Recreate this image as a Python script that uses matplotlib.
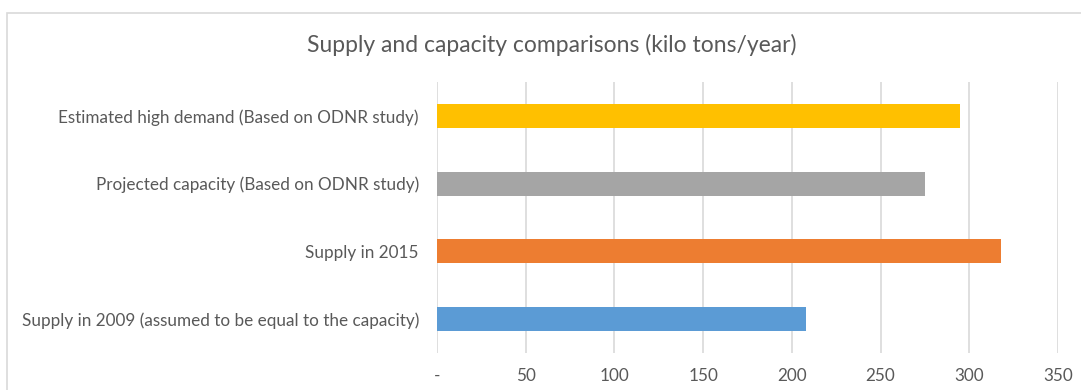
import matplotlib.pyplot as plt
from matplotlib.patches import Rectangle

categories = [
    'Supply in 2009 (assumed to be equal to the capacity)',
    'Supply in 2015',
    'Projected capacity (Based on ODNR study)',
    'Estimated high demand (Based on ODNR study)',
]
values = [208, 318, 275, 295]
colors = ['#5B9BD5', '#ED7D31', '#A5A5A5', '#FFC000']
xticks = [0, 50, 100, 150, 200, 250, 300, 350]
xtick_labels = ['-', '50', '100', '150', '200', '250', '300', '350']

plt.rcParams['font.family'] = ['Lato', 'DejaVu Sans']

fig = plt.figure(figsize=(10.81, 3.90), dpi=100)
ax = fig.add_axes([0.4043, 0.0949, 0.5744, 0.6948])

# chart border like excel
fig.patches.append(Rectangle((7 / 1081, -0.1), 1.2, 1 - 13 / 390 + 0.1,
                             transform=fig.transFigure, fill=False,
                             edgecolor='#d9d9d9', linewidth=1.2))

ax.barh(range(len(categories)), values, height=0.355, color=colors, zorder=3)

ax.set_xlim(0, 350)
ax.set_ylim(-0.5, len(categories) - 0.5)
ax.set_xticks(xticks)
ax.set_xticklabels(xtick_labels)
ax.set_yticks(range(len(categories)))
ax.set_yticklabels(categories)

ax.grid(axis='x', color='#d9d9d9', linewidth=1.2, zorder=0)
for s in ax.spines.values():
    s.set_visible(False)
ax.tick_params(axis='both', length=0, colors='#595959', labelsize=12.3)
ax.tick_params(axis='x', pad=11)
ax.tick_params(axis='y', pad=13)

fig.text(0.51, 0.885, 'Supply and capacity comparisons (kilo tons/year)',
         ha='center', va='center', fontsize=16.5, color='#595959')

fig.savefig('out.png', dpi=100)
